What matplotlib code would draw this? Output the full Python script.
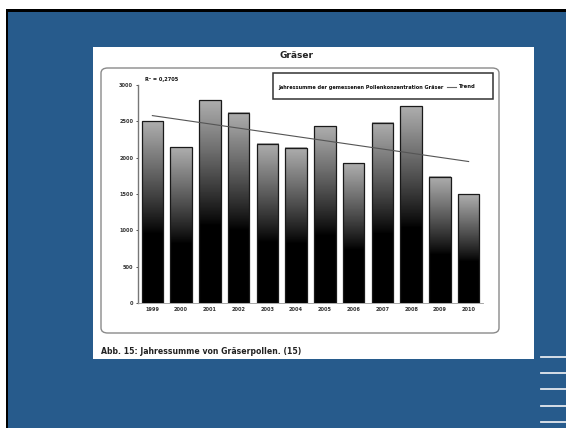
import numpy as np
import matplotlib
matplotlib.use("Agg")
import matplotlib.pyplot as plt
from matplotlib.patches import Rectangle, FancyBboxPatch
from matplotlib.lines import Line2D

# Annual grass pollen totals
years = ["1999", "2000", "2001", "2002", "2003", "2004",
         "2005", "2006", "2007", "2008", "2009", "2010"]
pollen = [2500, 2140, 2790, 2620, 2190, 2135, 2435, 1925, 2480, 2705, 1735, 1500]
y_ticks = [0, 500, 1000, 1500, 2000, 2500, 3000]

title = "Gräser"
legend_label = "Jahressumme der gemessenen Pollenkonzentration Gräser"
trend_label = "Trend"
caption = "Abb. 15: Jahressumme von Gräserpollen. (15)"

W, H = 566, 428
BLUE = "#275b8c"

fig = plt.figure(figsize=(W / 100, H / 100), dpi=100)
fig.patch.set_facecolor("white")


def fx(x):
    return x / W


def fy(y):
    return 1 - y / H


def box(x0, y0, x1, y1, **kw):
    fig.patches.append(Rectangle((fx(x0), fy(y1)), fx(x1) - fx(x0), fy(y0) - fy(y1),
                                 transform=fig.transFigure, **kw))


# slide background with dark border
box(6, 9, 566, 428, facecolor="black", edgecolor="none", zorder=0)
box(8, 11.5, 566, 428, facecolor=BLUE, edgecolor="none", zorder=0.1)
# white panel holding the scanned chart
box(93, 47, 534, 359, facecolor="white", edgecolor="none", zorder=0.2)
# decorative lines at the right margin
for yy in [357, 373, 389, 406, 422]:
    fig.lines.append(Line2D([fx(541), fx(566)], [fy(yy), fy(yy)], transform=fig.transFigure,
                            color="#e4e8ee", lw=1.3, zorder=0.3))

# rounded chart frame
fig.patches.append(FancyBboxPatch((fx(101), fy(333)), fx(499) - fx(101), fy(68) - fy(333),
                                  boxstyle="round,pad=0,rounding_size=0.012",
                                  transform=fig.transFigure, facecolor="none",
                                  edgecolor="#8a8a8a", lw=1.0, zorder=0.4))

fig.text(fx(297), fy(55), title, ha="center", va="center", fontsize=6.5,
         color="#222222", fontweight="bold")

# legend box
box(273, 73, 493, 99, facecolor="white", edgecolor="#333333", lw=1.1, zorder=0.5)
fig.text(fx(361), fy(87), legend_label, ha="center", va="center", fontsize=3.6,
         color="#111111", fontweight="bold", zorder=1)
fig.lines.append(Line2D([fx(447), fx(456)], [fy(87), fy(87)], transform=fig.transFigure,
                        color="#666666", lw=0.8, zorder=1))
fig.text(fx(458), fy(87), trend_label, ha="left", va="center", fontsize=3.8,
         color="#111111", fontweight="bold", zorder=1)

fig.text(fx(101), fy(352), caption, ha="left", va="center", fontsize=5.6,
         color="#222222", fontweight="bold")

# main plotting area
ax = fig.add_axes([fx(138), fy(303), fx(483) - fx(138), fy(85) - fy(303)])
ax.set_zorder(2)
ax.set_facecolor("none")
x = np.arange(len(years))

width = 0.74
grad = np.linspace(0, 1, 256)
shade = np.clip((grad - 0.38) / 0.62, 0, 1) ** 0.9 * 0.68
shade = shade[::-1].reshape(-1, 1)
for xi, v in zip(x, pollen):
    ax.imshow(shade, cmap="gray", vmin=0, vmax=1, aspect="auto",
              extent=[xi - width / 2, xi + width / 2, 0, v], zorder=2,
              interpolation="bilinear")
ax.bar(x, pollen, width=width, fill=False, edgecolor="#1a1a1a", lw=0.9, zorder=3)
ax.set_xlim(-0.5, len(years) - 0.5)
ax.set_ylim(0, 3000)

# linear trend
coef = np.polyfit(x, pollen, 1)
fit = np.polyval(coef, x)
ss_res = np.sum((np.array(pollen) - fit) ** 2)
ss_tot = np.sum((np.array(pollen) - np.mean(pollen)) ** 2)
r2 = 1 - ss_res / ss_tot
ax.plot(x, fit, color="#555555", lw=0.8, zorder=4)
fig.text(fx(145), fy(80), "R² = " + f"{r2:.4f}".replace(".", ","), ha="left", va="center",
         fontsize=3.6, color="#111111", fontweight="bold")

ax.set_xticks(x)
ax.set_xticklabels(years)
ax.set_yticks(y_ticks)
ax.tick_params(axis="y", labelsize=3.6, length=1.5, width=0.6, colors="#333333", pad=2)
ax.tick_params(axis="x", labelsize=3.6, length=0, colors="#333333", pad=3)
for lab in ax.get_xticklabels() + ax.get_yticklabels():
    lab.set_fontweight("bold")
for s in ["top", "right"]:
    ax.spines[s].set_visible(False)
ax.spines["left"].set_color("#777777")
ax.spines["left"].set_linewidth(1.0)
ax.spines["bottom"].set_color("#999999")
ax.spines["bottom"].set_linewidth(0.6)

fig.savefig("out.png", dpi=100)
